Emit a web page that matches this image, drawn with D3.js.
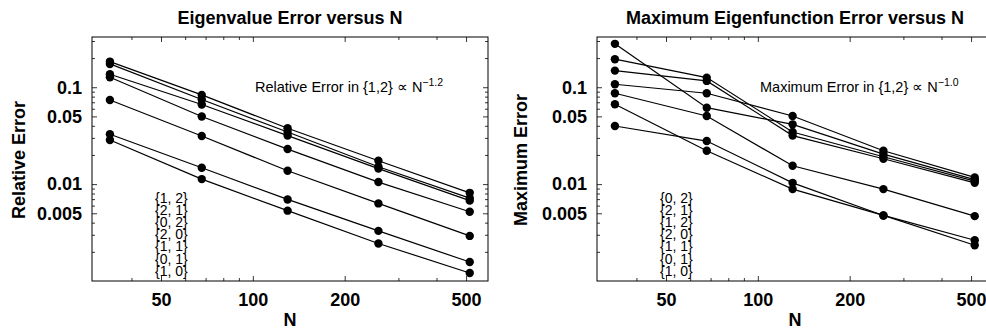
<!DOCTYPE html>
<html><head><meta charset="utf-8">
<script src="https://cdn.jsdelivr.net/npm/d3@7"></script>
<style>
body{margin:0;background:#fff}
svg{display:block}
text{font-family:"Liberation Sans",Arial,Helvetica,sans-serif;fill:#000}
</style>
</head><body>
<svg id="chart" width="986" height="333"></svg>
<script>
// ---- data ----
const nValues = [34, 68, 130, 258, 514];

// Left panel: relative eigenvalue error
const eigLabels = ["{1, 2}", "{2, 1}", "{0, 2}", "{2, 0}", "{1, 1}", "{0, 1}", "{1, 0}"];
const eig12 = [0.184, 0.0833, 0.0377, 0.01742, 0.00813];
const eig21 = [0.174, 0.0748, 0.0345, 0.0151, 0.00717];
const eig02 = [0.136, 0.0664, 0.0317, 0.01446, 0.00675];
const eig20 = [0.127, 0.0499, 0.0230, 0.0105, 0.00518];
const eig11 = [0.0739, 0.0314, 0.01372, 0.00632, 0.00292];
const eig01 = [0.0327, 0.01475, 0.00695, 0.00329, 0.00157];
const eig10 = [0.0285, 0.01127, 0.00532, 0.00244, 0.00121];

// Right panel: maximum eigenfunction error
const maxLabels = ["{0, 2}", "{2, 1}", "{1, 2}", "{2, 0}", "{1, 1}", "{0, 1}", "{1, 0}"];
const max02 = [0.2805, 0.0615, 0.0414, 0.02043, 0.01113];
const max21 = [0.1948, 0.1257, 0.0345, 0.01915, 0.01074];
const max12 = [0.1485, 0.1162, 0.0317, 0.01827, 0.01031];
const max20 = [0.1074, 0.0867, 0.0505, 0.0221, 0.01173];
const max11 = [0.0867, 0.0505, 0.01546, 0.00888, 0.00467];
const max01 = [0.0667, 0.0221, 0.00888, 0.00475, 0.002635];
const max10 = [0.0398, 0.02784, 0.01031, 0.00475, 0.00234];

const xMajorTicks = [50, 100, 200, 500];
const xMinorTicks = [40, 60, 70, 80, 90, 300, 400];
const yMajorTicks = [0.005, 0.01, 0.05, 0.1];
const yMinorTicks = [0.002, 0.003, 0.004, 0.006, 0.007, 0.008, 0.009,
                     0.02, 0.03, 0.04, 0.06, 0.07, 0.08, 0.09, 0.2, 0.3];

const panels = [
  {left: 92, title: "Eigenvalue Error versus N", ylabel: "Relative Error", ylabX: 25,
   series: [eig12, eig21, eig02, eig20, eig11, eig01, eig10], labels: eigLabels,
   note: "Relative Error in {1,2} \u221D N", exp: "\u22121.2", noteX: 255},
  {left: 597, title: "Maximum Eigenfunction Error versus N", ylabel: "Maximum Error", ylabX: 527,
   series: [max02, max21, max12, max20, max11, max01, max10], labels: maxLabels,
   note: "Maximum Error in {1,2} \u221D N", exp: "\u22121.0", noteX: 760}
];

const svg = d3.select("#chart");
const W = 396, yTop = 37, yBottom = 281;
const y = d3.scaleLog().domain([0.001, 0.33]).range([yBottom, yTop]);
const fmt = d => String(d);
const BIG = 18;

panels.forEach(p => {
  const x = d3.scaleLog().domain([29.7, 590]).range([p.left, p.left + W]);
  const g = svg.append("g");

  // frame
  g.append("rect").attr("x", p.left).attr("y", yTop).attr("width", W).attr("height", yBottom - yTop)
    .attr("fill", "none").attr("stroke", "#000").attr("stroke-width", 1);

  const addAxis = (axis, tr) => {
    const a = g.append("g").attr("transform", tr).call(axis);
    a.select(".domain").remove();
    a.selectAll(".tick line").attr("stroke", "#000").attr("stroke-width", 0.8);
    return a;
  };
  const bx = addAxis(d3.axisBottom(x).tickValues(xMajorTicks).tickFormat(d3.format("d")).tickSize(-5).tickPadding(12), `translate(0,${yBottom})`);
  bx.selectAll("text").attr("font-size", BIG).attr("font-weight", "bold").attr("font-family", "Liberation Sans, Arial, sans-serif");
  addAxis(d3.axisBottom(x).tickValues(xMinorTicks).tickFormat("").tickSize(-3), `translate(0,${yBottom})`);
  addAxis(d3.axisTop(x).tickValues(xMajorTicks).tickFormat("").tickSize(-5), `translate(0,${yTop})`);
  addAxis(d3.axisTop(x).tickValues(xMinorTicks).tickFormat("").tickSize(-3), `translate(0,${yTop})`);

  const ly = addAxis(d3.axisLeft(y).tickValues(yMajorTicks).tickFormat(fmt).tickSize(-5).tickPadding(10), `translate(${p.left},0)`);
  ly.selectAll("text").attr("font-size", BIG).attr("font-weight", "bold").attr("font-family", "Liberation Sans, Arial, sans-serif");
  addAxis(d3.axisLeft(y).tickValues(yMinorTicks).tickFormat("").tickSize(-3), `translate(${p.left},0)`);
  addAxis(d3.axisRight(y).tickValues(yMajorTicks).tickFormat("").tickSize(-5), `translate(${p.left + W},0)`);
  addAxis(d3.axisRight(y).tickValues(yMinorTicks).tickFormat("").tickSize(-3), `translate(${p.left + W},0)`);

  // titles and labels
  g.append("text").attr("x", p.left + 198).attr("y", 24)
    .attr("text-anchor", "middle").attr("font-size", BIG).attr("font-weight", "bold").text(p.title);
  g.append("text").attr("x", p.left + 198).attr("y", 326)
    .attr("text-anchor", "middle").attr("font-size", BIG).attr("font-weight", "bold").text("N");
  g.append("text").attr("transform", `translate(${p.ylabX},160) rotate(-90)`)
    .attr("text-anchor", "middle").attr("font-size", BIG).attr("font-weight", "bold").text(p.ylabel);

  // lines and points
  const line = d3.line().x((d, i) => x(nValues[i])).y(d => y(d));
  p.series.forEach(s => {
    g.append("path").attr("d", line(s)).attr("fill", "none").attr("stroke", "#000").attr("stroke-width", 1.2);
  });
  p.series.forEach(s => {
    g.selectAll(null).data(s).enter().append("circle")
      .attr("cx", (d, i) => x(nValues[i])).attr("cy", d => y(d)).attr("r", 4.2).attr("fill", "#000");
  });

  // annotation
  const t = g.append("text").attr("x", p.noteX).attr("y", 92).attr("font-size", 14.5);
  t.append("tspan").text(p.note);
  t.append("tspan").attr("dy", -6.5).attr("font-size", 10.5).text(p.exp);

  // legend (stacked labels, one text block)
  const lg = g.append("text").attr("x", p.left + 63).attr("y", 203).attr("font-size", 14);
  lg.selectAll("tspan").data(p.labels).enter().append("tspan")
    .attr("x", p.left + 63).attr("dy", (d, i) => i === 0 ? 0 : 12.1).text(d => d);
});
</script>
</body></html>
